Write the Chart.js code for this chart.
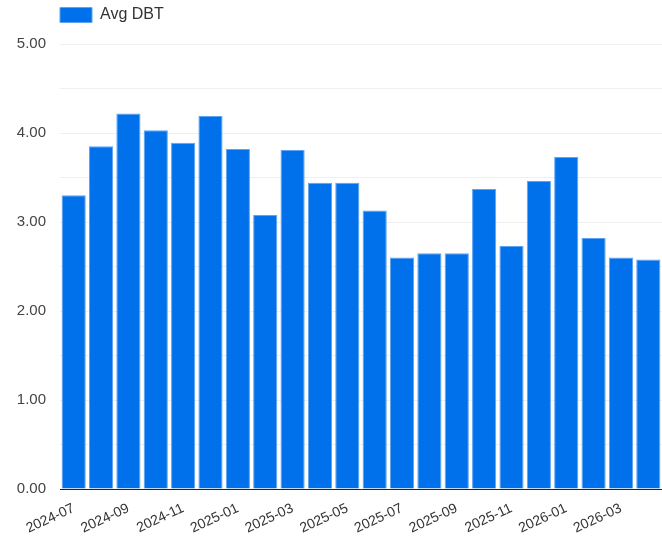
<!DOCTYPE html>
<html>
<head>
<meta charset="utf-8">
<script src="https://cdn.jsdelivr.net/npm/chart.js@4.4.1/dist/chart.umd.min.js"></script>
<style>
  html, body { margin: 0; padding: 0; background: #fff; }
  #wrap { width: 662px; height: 538px; position: relative; }
</style>
</head>
<body>
<div id="wrap"><canvas id="chart"></canvas></div>
<script>
// monthly average, Jul 2024 - Apr 2026
const months = ['2024-07', '2024-08', '2024-09', '2024-10', '2024-11', '2024-12',
  '2025-01', '2025-02', '2025-03', '2025-04', '2025-05', '2025-06',
  '2025-07', '2025-08', '2025-09', '2025-10', '2025-11', '2025-12',
  '2026-01', '2026-02', '2026-03', '2026-04'];
const avgDbt = [3.30, 3.85, 4.22, 4.03, 3.89, 4.19, 3.82, 3.08, 3.81, 3.44, 3.44, 3.13,
  2.60, 2.65, 2.65, 3.37, 2.73, 3.46, 3.73, 2.82, 2.60, 2.58];

const fontFamily = "'Liberation Sans', Arial, sans-serif";

// push the legend right, over the plot, and leave a gap below it
const legendSpacing = {
  id: 'legendSpacing',
  beforeInit(chart) {
    const fit = chart.legend.fit;
    chart.legend.fit = function () {
      fit.call(this);
      this.height = 44;
    };
  },
  afterLayout(chart) {
    chart.legend.left = chart.chartArea.left - 7;
  }
};

new Chart(document.getElementById('chart'), {
  type: 'bar',
  data: {
    labels: months,
    datasets: [{
      label: 'Avg DBT',
      data: avgDbt,
      backgroundColor: '#0070eb',
      borderColor: '#5ea3f1',
      borderWidth: 1,
      barPercentage: 0.96,
      categoryPercentage: 0.92
    }]
  },
  plugins: [legendSpacing],
  options: {
    responsive: true,
    maintainAspectRatio: false,
    animation: false,
    layout: { padding: 0 },
    plugins: {
      legend: {
        align: 'start',
        labels: {
          font: { family: fontFamily, size: 16 },
          color: '#333',
          boxWidth: 32,
          boxHeight: 15,
          padding: 7
        }
      },
      tooltip: { enabled: false }
    },
    scales: {
      x: {
        grid: { display: false },
        border: { display: true, color: '#222', width: 1 },
        ticks: {
          font: { family: fontFamily, size: 14 },
          color: '#333',
          autoSkip: false,
          minRotation: 25,
          maxRotation: 25,
          callback: (v, i) => i % 2 === 0 ? months[i] : ''
        },
        afterFit(scale) {
          scale.paddingLeft = 0;
          scale.paddingRight = 0;
          scale.height = 49;
        }
      },
      y: {
        min: 0,
        max: 5,
        grid: { color: '#efefef', drawTicks: false },
        border: { display: false },
        ticks: {
          stepSize: 0.5,
          padding: 14,
          font: { family: fontFamily, size: 15 },
          color: '#444',
          callback: v => (Math.abs(v % 1) < 1e-9 ? v.toFixed(2) : '')
        },
        afterFit(scale) {
          scale.width = 60;
        }
      }
    }
  }
});
</script>
</body>
</html>
